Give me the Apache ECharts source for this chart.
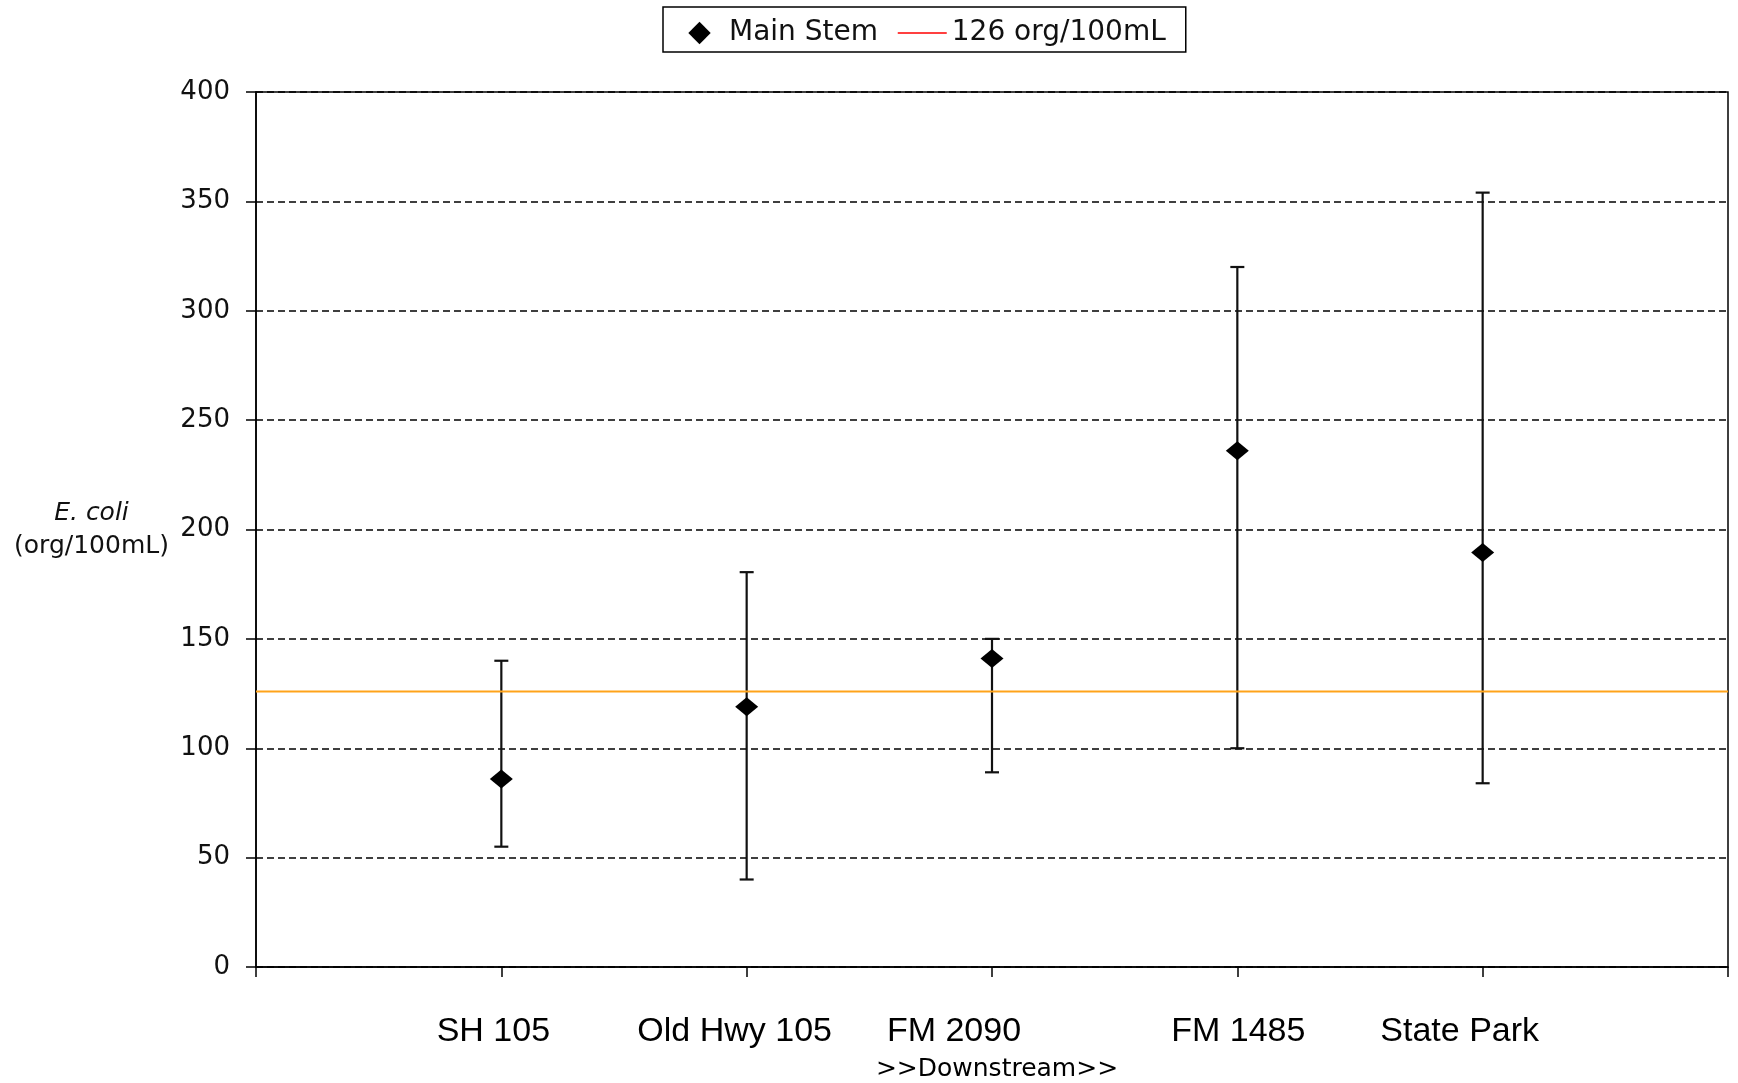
<!DOCTYPE html>
<html>
<head>
<meta charset="utf-8">
<title>E. coli – Main Stem</title>
<script src="https://cdn.jsdelivr.net/npm/echarts@6/dist/echarts.min.js"></script>
<style>
  html, body { margin: 0; padding: 0; background: #fff; }
  #chart { width: 1738px; height: 1083px; }
</style>
</head>
<body>
<div id="chart"></div>
<script>
// Sampling sites, upstream to downstream
const categories = ['SH 105', 'Old Hwy 105', 'FM 2090', 'FM 1485', 'State Park'];
// Geometric mean E. coli per site (org/100mL)
const meanValues = [86, 119, 141, 236, 189.5];
// Upper and lower bounds of the error bars
const upperValues = [140, 180.5, 150, 320, 354];
const lowerValues = [55, 40, 89, 100, 84];
// Contact recreation criterion
const criterionValue = 126;
const criterionName = '126 org/100mL';
const seriesName = 'Main Stem';
// Axis settings
const yMin = 0, yMax = 400, yStep = 50;
const xMin = 0, xMax = 6, xStep = 1;

const sitePositions = categories.map((c, i) => i + 1);
const meanData = sitePositions.map((x, i) => [x, meanValues[i]]);
const barData = sitePositions.map((x, i) => [x, lowerValues[i], upperValues[i]]);
const criterionData = [[xMin, criterionValue], [xMax, criterionValue]];

// per-label horizontal nudges for the site names
const labelRich = {};
const nudges = [[0, 16], [0, 24], [0, 76], [2, 0], [0, 46]];
categories.forEach((c, i) => {
  labelRich['s' + (i + 1)] = {
    fontFamily: 'Liberation Sans, Arial, sans-serif',
    fontSize: 34,
    color: '#000',
    padding: [0, nudges[i][1], 0, nudges[i][0]]
  };
});

const chart = echarts.init(document.getElementById('chart'), null, { renderer: 'canvas' });

const option = {
  backgroundColor: '#fff',
  animation: false,
  legend: {
    left: 663,
    top: 7,
    orient: 'horizontal',
    padding: [12, 20, 5, 12],
    itemGap: 19,
    itemWidth: 49,
    itemHeight: 28,
    borderColor: '#000',
    borderWidth: 1.5,
    textStyle: { fontFamily: 'DejaVu Sans', fontSize: 28, color: '#111' },
    data: [
      { name: seriesName, itemStyle: { color: '#000' }, lineStyle: { opacity: 0 } },
      { name: criterionName, itemStyle: { opacity: 0 }, lineStyle: { color: '#ff0000', width: 1.5 } }
    ]
  },
  grid: {
    left: 256, top: 92, right: 10, bottom: 116,
    outerBoundsMode: 'none',
    show: true, borderColor: '#000', borderWidth: 1.5, backgroundColor: 'transparent'
  },
  xAxis: {
    type: 'value',
    min: xMin, max: xMax, interval: xStep,
    name: '>>Downstream>>',
    nameLocation: 'middle',
    nameGap: 90,
    nameTextStyle: { fontFamily: 'DejaVu Sans', fontSize: 25, color: '#000', padding: [0, 0, 0, 10] },
    axisLine: { show: true, lineStyle: { color: '#000', width: 1.5 } },
    axisTick: { show: true, length: 10, lineStyle: { color: '#000', width: 1.5 } },
    splitLine: { show: false },
    axisLabel: {
      margin: 48,
      formatter: v => (v >= 1 && v <= categories.length) ? '{s' + v + '|' + categories[v - 1] + '}' : '',
      rich: labelRich
    }
  },
  yAxis: {
    type: 'value',
    min: yMin, max: yMax, interval: yStep,
    name: '{i|E. coli}\n{n|(org/100mL)}',
    nameLocation: 'middle',
    nameRotate: 0,
    nameGap: 82,
    nameTextStyle: {
      rich: {
        i: { fontFamily: 'DejaVu Sans', fontStyle: 'italic', fontSize: 25, color: '#111', width: 165, align: 'center', lineHeight: 33 },
        n: { fontFamily: 'DejaVu Sans', fontSize: 25, color: '#111', width: 165, align: 'center', lineHeight: 33 }
      }
    },
    axisLine: { show: true, lineStyle: { color: '#000', width: 1.5 } },
    axisTick: { show: true, length: 10, lineStyle: { color: '#000', width: 1.5 } },
    axisLabel: { margin: 26, fontFamily: 'DejaVu Sans', fontSize: 26, color: '#111' },
    splitLine: { show: true, lineStyle: { color: '#000', width: 1.7, type: [7, 4] } }
  },
  series: [
    {
      name: 'range',
      type: 'custom',
      z: 3,
      silent: true,
      data: barData,
      renderItem: function (params, api) {
        const x = api.value(0);
        const lo = api.coord([x, api.value(1)]);
        const hi = api.coord([x, api.value(2)]);
        const hw = 7;
        const st = { stroke: '#111', lineWidth: 2.2 };
        return {
          type: 'group',
          children: [
            { type: 'line', shape: { x1: hi[0], y1: hi[1], x2: lo[0], y2: lo[1] }, style: st },
            { type: 'line', shape: { x1: hi[0] - hw, y1: hi[1], x2: hi[0] + hw, y2: hi[1] }, style: st },
            { type: 'line', shape: { x1: lo[0] - hw, y1: lo[1], x2: lo[0] + hw, y2: lo[1] }, style: st }
          ]
        };
      }
    },
    {
      name: criterionName,
      type: 'line',
      z: 4,
      silent: true,
      symbol: 'none',
      data: criterionData,
      itemStyle: { color: '#ffa31a' },
      lineStyle: { color: '#ffa31a', width: 2 }
    },
    {
      // markers only: the connecting line is hidden
      name: seriesName,
      type: 'line',
      z: 5,
      symbol: 'diamond',
      symbolSize: [23, 19],
      showSymbol: true,
      showAllSymbol: true,
      data: meanData,
      lineStyle: { width: 0, opacity: 0 },
      itemStyle: { color: '#000', opacity: 1 }
    }
  ]
};

chart.setOption(option);
</script>
</body>
</html>
